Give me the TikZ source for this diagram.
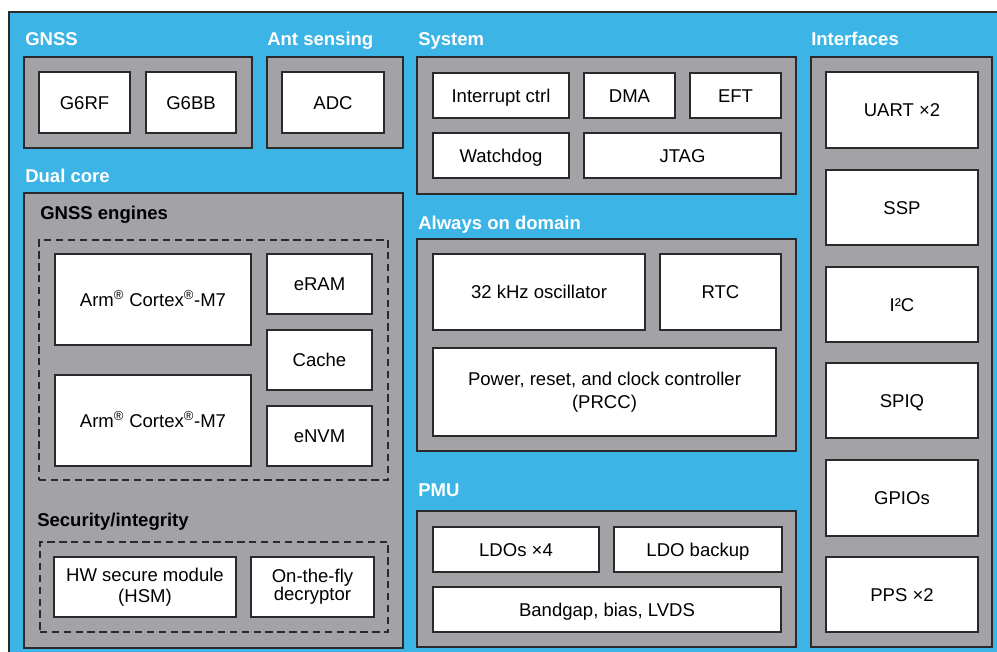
\documentclass[tikz,border=0pt]{standalone}
\usepackage{fontspec}
\setmainfont{Liberation Sans}
\usetikzlibrary{fit}
\definecolor{chipblue}{HTML}{3CB4E5}
\definecolor{blockgray}{HTML}{A3A2A7}
\definecolor{edgecol}{HTML}{2A2A2A}
% \blk[opts]{name}{x1}{y1}{x2}{y2}{text}
\newcommand\blk[7][]{%
  \pgfmathsetlengthmacro\blkw{(#5-#3)*0.75pt}%
  \pgfmathsetlengthmacro\blkh{(#6-#4)*0.75pt}%
  \node[wbox, minimum width=\blkw, minimum height=\blkh, #1] (#2) at ({(#3+#5)/2},{(#4+#6)/2}) {#7};}
\begin{document}
\begin{tikzpicture}[x=0.75pt,y=-0.75pt,
  every node/.style={font=\fontsize{13.9}{15.8}\selectfont},
  gbox/.style={draw=edgecol, fill=blockgray, line width=1.1pt, inner sep=0pt},
  wbox/.style={draw=edgecol, fill=white, line width=1.1pt, inner sep=0pt, align=center, text=black,
               text height=9.95pt, text depth=0pt},
  multi/.style={text height={}, text depth={}},
  dbox/.style={draw=edgecol, dash pattern=on 5.5pt off 3.4pt, line width=0.9pt, inner sep=0pt},
  lbl/.style={anchor=base west, inner sep=0pt, font=\fontsize{13.9}{15.8}\selectfont\bfseries, text=white},
  sublbl/.style={lbl, text=black}]
\useasboundingbox (0,0) rectangle (997,652);
% outer chip
\node[fill=chipblue, draw=edgecol, line width=0.9pt, inner sep=0pt, fit={(9,12) (1002,657)}] (chip) {};

% GNSS
\node[lbl] (lgnss) at (25,46) {GNSS};
\node[gbox, fit={(24,57) (252,148)}] (gnss) {};
\blk{g6rf}{39}{72}{130}{133}{G6RF}
\blk{g6bb}{146}{72}{236}{133}{G6BB}

% Ant sensing
\node[lbl] (lant) at (267,46) {Ant sensing};
\node[gbox, fit={(267,57) (403,148)}] (ant) {};
\blk{adc}{282}{72}{384}{133}{ADC}

% Dual core
\node[lbl] (ldual) at (25,183) {Dual core};
\node[gbox, fit={(24,193) (403,648)}] (dual) {};
\node[sublbl] (leng) at (40,220) {GNSS engines};
\node[dbox, fit={(39,240) (388,480)}] (eng) {};
\blk{arm1}{55}{254}{251}{345}{Arm\textsuperscript{®} Cortex\textsuperscript{®}-M7}
\blk{arm2}{55}{375}{251}{466}{Arm\textsuperscript{®} Cortex\textsuperscript{®}-M7}
\blk{eram}{267}{254}{372}{314}{eRAM}
\blk{cache}{267}{330}{372}{390}{Cache}
\blk{envm}{267}{406}{372}{466}{eNVM}
\node[sublbl] (lsec) at (37,527) {Security/integrity};
\node[dbox, fit={(40,542) (388,632)}] (sec) {};
\blk[multi]{hsm}{54}{557}{236}{617}{HW secure module\\(HSM)}
\blk[multi, font=\fontsize{13.9}{13.6}\selectfont]{otf}{251}{557}{374}{617}{On-the-fly\\decryptor}

% System
\node[lbl] (lsys) at (418,46) {System};
\node[gbox, fit={(417,57) (796,194)}] (sys) {};
\blk{irq}{433}{73}{569}{118}{Interrupt ctrl}
\blk{dma}{584}{73}{675}{118}{DMA}
\blk{eft}{690}{73}{781}{118}{EFT}
\blk{wdog}{433}{133}{569}{178}{Watchdog}
\blk{jtag}{584}{133}{781}{178}{JTAG}

% Always on domain
\node[lbl] (laon) at (418,230) {Always on domain};
\node[gbox, fit={(417,239) (796,451)}] (aon) {};
\blk{osc}{433}{254}{645}{330}{32 kHz oscillator}
\blk{rtc}{660}{254}{781}{330}{RTC}
\blk[multi, font=\fontsize{13.9}{17.2}\selectfont]{prcc}{433}{348}{776}{436}{Power, reset, and clock controller\\(PRCC)}

% PMU
\node[lbl] (lpmu) at (418,497) {PMU};
\node[gbox, fit={(417,511) (796,647)}] (pmu) {};
\blk{ldo}{433}{527}{599}{572}{LDOs ×4}
\blk{ldob}{614}{527}{782}{572}{LDO backup}
\blk{bg}{433}{587}{781}{632}{Bandgap, bias, LVDS}

% Interfaces
\node[lbl] (lif) at (811,46) {Interfaces};
\node[gbox, fit={(811,57) (992,647)}] (ifc) {};
\blk{uart}{826}{72}{978}{148}{UART ×2}
\blk{ssp}{826}{170}{978}{245}{SSP}
\blk{i2c}{826}{267}{978}{342}{I²C}
\blk{spiq}{826}{363}{978}{438}{SPIQ}
\blk{gpio}{826}{460}{978}{536}{GPIOs}
\blk{pps}{826}{557}{978}{632}{PPS ×2}
\end{tikzpicture}
\end{document}
